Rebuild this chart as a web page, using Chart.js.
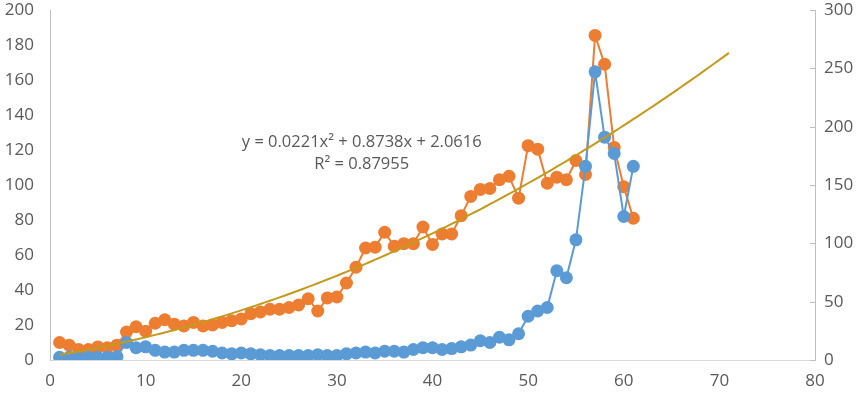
<!DOCTYPE html>
<html>
<head>
<meta charset="utf-8">
<script src="https://cdn.jsdelivr.net/npm/chart.js@4/dist/chart.umd.min.js"></script>
<style>
  html, body { margin: 0; padding: 0; background: #fff; }
  #wrap { width: 864px; height: 393px; position: relative; }
</style>
</head>
<body>
<div id="wrap"><canvas id="chart"></canvas></div>
<script>
// x positions (day index)
const days = [1,2,3,4,5,6,7,8,9,10,11,12,13,14,15,16,17,18,19,20,
  21,22,23,24,25,26,27,28,29,30,31,32,33,34,35,36,37,38,39,40,
  41,42,43,44,45,46,47,48,49,50,51,52,53,54,55,56,57,58,59,60,61]

// orange series, left axis
const orangeValues = [10,8.5,6,6,7.5,7,8.5,16,19,16.5,
  21,23,20.5,19.5,21.5,19.5,20,21.5,22.5,23.5,
  26.5,27.5,29,29,30,31.5,35,28,35.5,36,
  44,53,64,64.5,73,65,66.5,66.5,76,66,
  72,72,82.5,93.5,97.5,98,103,105,92.5,122.5,
  120.5,101,104.5,103,114,106,185.5,169,121.5,99,81]

// blue series, right axis
const blueValues = [2.3,2.3,1.5,2.3,2.3,2.3,3,15,10.5,11.3,
  8.3,6.8,6.8,8.3,8.3,8.3,7.5,6,5.3,6,
  5.3,4.5,3.8,3.8,3.8,3.8,3.8,4.5,3.8,3.8,
  5.3,6,6.8,6,7.5,7.5,6.8,9,10.5,10.5,
  9,9.8,11.3,12.8,16.5,15,19.5,17.3,22.5,37.5,
  42,45,76.5,70.5,103,166,247,191,177,123,166]

// polynomial trendline as printed on the chart
const trendCoef = [2.0616, 0.8738, 0.0221]
const trendRange = [1, 71]
const trendLabel = ['y = 0.0221x\u00b2 + 0.8738x + 2.0616', 'R\u00b2 = 0.87955']

const xTicks = [0, 80, 10]
const leftTicks = [0, 200, 20]
const rightTicks = [0, 300, 50]

const textColor = '#595959'
const fontFamily = 'Open Sans, Lato, sans-serif'

const orangePoints = days.map((d, i) => ({ x: d, y: orangeValues[i] }))
const bluePoints = days.map((d, i) => ({ x: d, y: blueValues[i] }))
const trendPoints = []
for (let x = trendRange[0]; x <= trendRange[1]; x += 0.5) {
  trendPoints.push({ x: x, y: trendCoef[0] + trendCoef[1] * x + trendCoef[2] * x * x })
}

const extras = {
  id: 'extras',
  afterDraw(chart) {
    const ctx = chart.ctx
    const y2 = chart.scales.y2
    ctx.save()
    ctx.strokeStyle = '#bfbfbf'
    ctx.lineWidth = 1
    y2.ticks.forEach(t => {
      const py = Math.round(y2.getPixelForValue(t.value)) + 0.5
      ctx.beginPath()
      ctx.moveTo(y2.left, py)
      ctx.lineTo(y2.left - 5, py)
      ctx.stroke()
    })
    const xs = chart.scales.x, ys = chart.scales.y
    const cx = xs.getPixelForValue(32.6)
    const cy = ys.getPixelForValue(124.5)
    ctx.fillStyle = textColor
    ctx.font = '16.5px ' + fontFamily
    ctx.textAlign = 'center'
    ctx.textBaseline = 'middle'
    ctx.fillText(trendLabel[0], cx, cy)
    ctx.fillText(trendLabel[1], cx, cy + 22)
    ctx.restore()
  }
}

const tickFont = { size: 17, family: fontFamily }

function fixWidth(w) {
  return function (s) {
    s.width = w
    s.paddingTop = 0
    s.paddingBottom = 0
  }
}

new Chart(document.getElementById('chart'), {
  type: 'scatter',
  data: {
    datasets: [
      {
        label: 'trend',
        data: trendPoints,
        showLine: true,
        borderColor: '#c39a1c',
        borderWidth: 2,
        pointRadius: 0,
        yAxisID: 'y'
      },
      {
        label: 'blue',
        data: bluePoints,
        showLine: true,
        borderColor: '#5b9bd5',
        backgroundColor: '#5b9bd5',
        borderWidth: 2,
        pointRadius: 6.5,
        pointBorderWidth: 0,
        yAxisID: 'y2'
      },
      {
        label: 'orange',
        data: orangePoints,
        showLine: true,
        borderColor: '#ed7d31',
        backgroundColor: '#ed7d31',
        borderWidth: 2,
        pointRadius: 6.5,
        pointBorderWidth: 0,
        yAxisID: 'y'
      }
    ]
  },
  options: {
    responsive: true,
    maintainAspectRatio: false,
    animation: false,
    layout: { padding: { top: 10, left: 0, right: 0, bottom: 0 } },
    plugins: { legend: { display: false }, tooltip: { enabled: false } },
    scales: {
      x: {
        type: 'linear',
        min: xTicks[0], max: xTicks[1],
        ticks: { stepSize: xTicks[2], color: textColor, font: tickFont, padding: 11 },
        grid: { display: false, drawTicks: false },
        border: { color: '#d9d9d9', width: 1 },
        afterFit(s) { s.height = 33; s.paddingLeft = 0; s.paddingRight = 0 }
      },
      y: {
        position: 'left',
        min: leftTicks[0], max: leftTicks[1],
        ticks: { stepSize: leftTicks[2], color: textColor, font: tickFont, padding: 16 },
        grid: { display: false, drawTicks: false },
        border: { color: '#bfbfbf', width: 1 },
        afterFit: fixWidth(50)
      },
      y2: {
        position: 'right',
        min: rightTicks[0], max: rightTicks[1],
        ticks: { stepSize: rightTicks[2], color: textColor, font: tickFont, padding: 9 },
        grid: { display: false, drawTicks: false },
        border: { color: '#bfbfbf', width: 1 },
        afterFit: fixWidth(49)
      }
    }
  },
  plugins: [extras]
})
</script>
</body>
</html>
